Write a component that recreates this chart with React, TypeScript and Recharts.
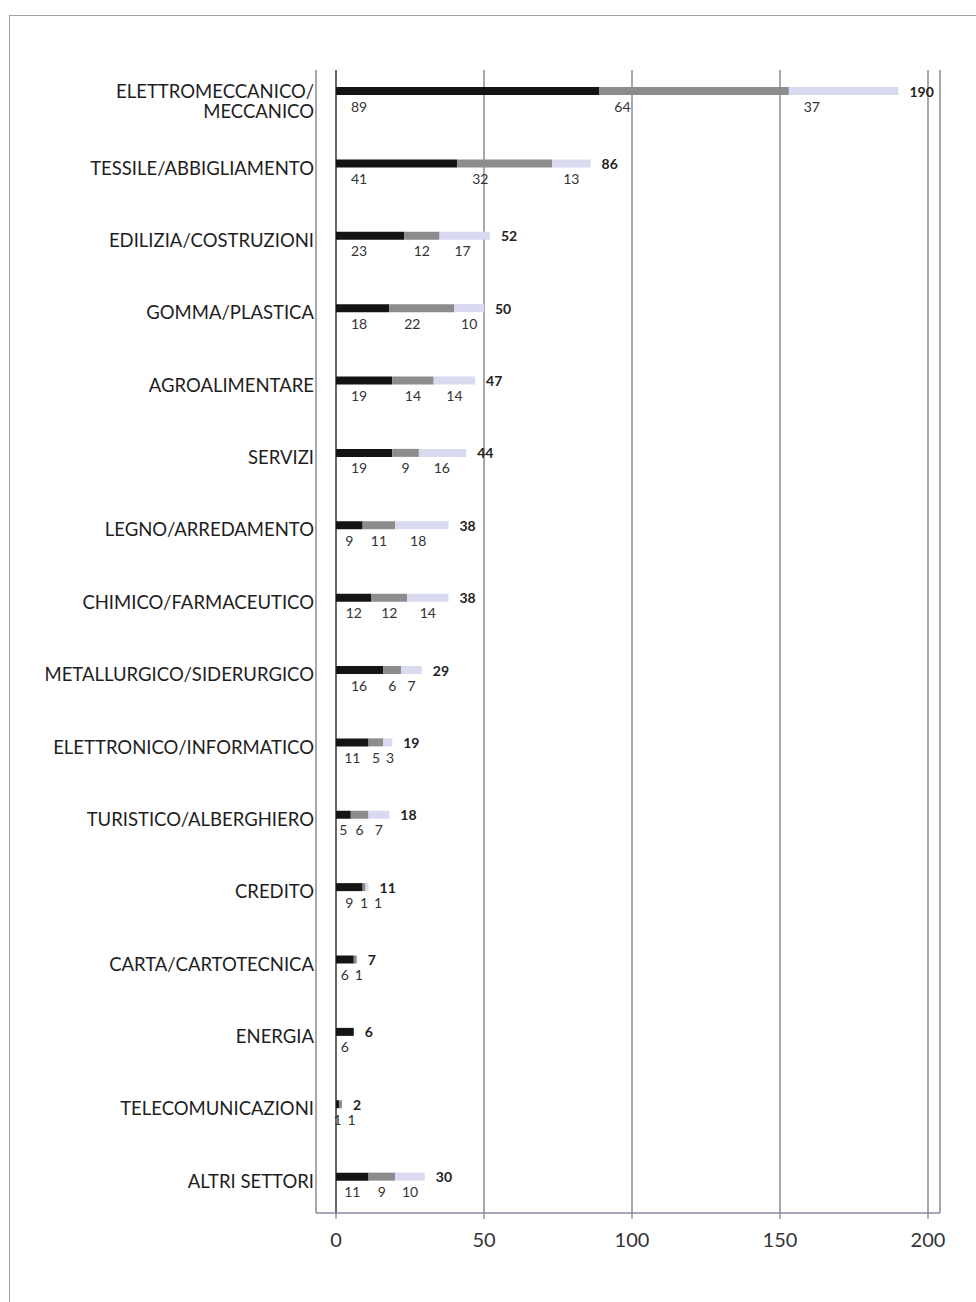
import React from "react";
import { BarChart, Bar, XAxis, YAxis, CartesianGrid, LabelList } from "recharts";

const categories = [
  "ELETTROMECCANICO/MECCANICO",
  "TESSILE/ABBIGLIAMENTO",
  "EDILIZIA/COSTRUZIONI",
  "GOMMA/PLASTICA",
  "AGROALIMENTARE",
  "SERVIZI",
  "LEGNO/ARREDAMENTO",
  "CHIMICO/FARMACEUTICO",
  "METALLURGICO/SIDERURGICO",
  "ELETTRONICO/INFORMATICO",
  "TURISTICO/ALBERGHIERO",
  "CREDITO",
  "CARTA/CARTOTECNICA",
  "ENERGIA",
  "TELECOMUNICAZIONI",
  "ALTRI SETTORI",
];
const seg1 = [89, 41, 23, 18, 19, 19, 9, 12, 16, 11, 5, 9, 6, 6, 1, 11];
const seg2 = [64, 32, 12, 22, 14, 9, 11, 12, 6, 5, 6, 1, 1, 0, 1, 9];
const seg3 = [37, 13, 17, 10, 14, 16, 18, 14, 7, 3, 7, 1, 0, 0, 0, 10];
const totals = [190, 86, 52, 50, 47, 44, 38, 38, 29, 19, 18, 11, 7, 6, 2, 30];
const xTicks = [0, 50, 100, 150, 200];

const data = categories.map((name, i) => ({
  name,
  a: seg1[i],
  b: seg2[i],
  c: seg3[i],
  total: totals[i],
}));

const FONT = "Lato, 'Open Sans', sans-serif";

const CategoryTick = (props: any) => {
  const { x, y, payload } = props;
  const label: string = payload.value;
  const lines =
    label.length > 25
      ? [label.slice(0, label.indexOf("/") + 1), label.slice(label.indexOf("/") + 1)]
      : [label];
  return (
    <text
      x={x}
      y={lines.length > 1 ? y : y + 4}
      textAnchor="end"
      dominantBaseline="central"
      fontSize={18.5}
      fill="#1e1e1e"
      fontFamily={FONT}
    >
      {lines.map((ln, i) => (
        <tspan key={i} x={x} dy={i === 0 ? 0 : 20}>
          {ln}
        </tspan>
      ))}
    </text>
  );
};

const segArrays = [seg1, seg2, seg3];

const makeSegLabel = (k: number) => (props: any) => {
  const { x, y, width, height, value } = props;
  const index = categories.indexOf(value);
  if (index < 0) return null;
  const own = segArrays[k][index];
  if (!own) return null;
  const ppu = width / own;
  const vals = [seg1[index], seg2[index], seg3[index]];
  let before = 0;
  for (let j = 0; j < k; j++) before += vals[j];
  let start = x - before * ppu;
  let prev = -Infinity;
  let lx = x;
  for (let j = 0; j <= k; j++) {
    const w = vals[j] * ppu;
    if (vals[j] > 0) {
      let cand = start + Math.min(w / 2, 23);
      cand = Math.max(cand, prev + 14);
      prev = cand;
      if (j === k) lx = cand;
    }
    start += w;
  }
  return (
    <text
      x={lx}
      y={y + height / 2 + 15}
      textAnchor="middle"
      dominantBaseline="central"
      fontSize={14}
      fill="#333"
      fontFamily={FONT}
    >
      {own}
    </text>
  );
};

const TotalLabel = (props: any) => {
  const { x, y, width, height, value } = props;
  const index = categories.indexOf(value);
  if (index < 0) return null;
  const ppu = width / seg1[index];
  const end = x + totals[index] * ppu;
  return (
    <text
      x={end + 11}
      y={y + height / 2}
      textAnchor="start"
      dominantBaseline="central"
      fontSize={14}
      fontWeight={700}
      fill="#222"
      fontFamily={FONT}
    >
      {totals[index]}
    </text>
  );
};

const GridLine = (props: any) => {
  const { x1, x2, y2, index } = props;
  const isZero = index === 0;
  return (
    <line
      key={`g${index}`}
      x1={x1}
      x2={x2}
      y1={70}
      y2={y2}
      stroke={isZero ? "#2a2a2a" : "#50505e"}
      strokeWidth={isZero ? 1.4 : 1}
    />
  );
};

export default function App() {
  return (
    <div
      style={{
        position: "absolute",
        left: 0,
        top: 0,
        width: 976,
        height: 1302,
        background: "#fff",
        fontFamily: FONT,
      }}
    >
      <div
        style={{
          position: "absolute",
          left: 9,
          top: 15,
          width: 967,
          height: 1287,
          borderTop: "1.5px solid #a8a0b0",
          borderLeft: "1.5px solid #a898b0",
          boxSizing: "border-box",
        }}
      />
      <div style={{ position: "absolute", left: 0, top: 0 }}>
        <BarChart
          width={976}
          height={1302}
          data={data}
          layout="vertical"
          margin={{ top: 55, right: 36, bottom: 49, left: 0 }}
          barSize={8}
        >
          <CartesianGrid horizontal={false} vertical={GridLine as any} />
          <XAxis
            type="number"
            domain={[0, 200]}
            ticks={xTicks}
            padding={{ left: 20, right: 12 }}
            height={40}
            tickSize={6}
            tickMargin={14}
            axisLine={{ stroke: "#8a8aa6", strokeWidth: 1.5 }}
            tickLine={{ stroke: "#666" }}
            tick={{ fontSize: 20, fill: "#333", fontFamily: FONT }}
          />
          <YAxis
            type="category"
            dataKey="name"
            width={316}
            axisLine={false}
            tickLine={false}
            tickSize={0}
            tickMargin={2}
            interval={0}
            tick={<CategoryTick />}
          />
          <Bar dataKey="a" stackId="s" fill="#141414" isAnimationActive={false}>
            <LabelList dataKey="name" content={makeSegLabel(0)} />
            <LabelList dataKey="name" content={TotalLabel} />
          </Bar>
          <Bar dataKey="b" stackId="s" fill="#8c8c8e" isAnimationActive={false}>
            <LabelList dataKey="name" content={makeSegLabel(1)} />
          </Bar>
          <Bar dataKey="c" stackId="s" fill="#d9d9f0" isAnimationActive={false}>
            <LabelList dataKey="name" content={makeSegLabel(2)} />
          </Bar>
        </BarChart>
      </div>
    </div>
  );
}
